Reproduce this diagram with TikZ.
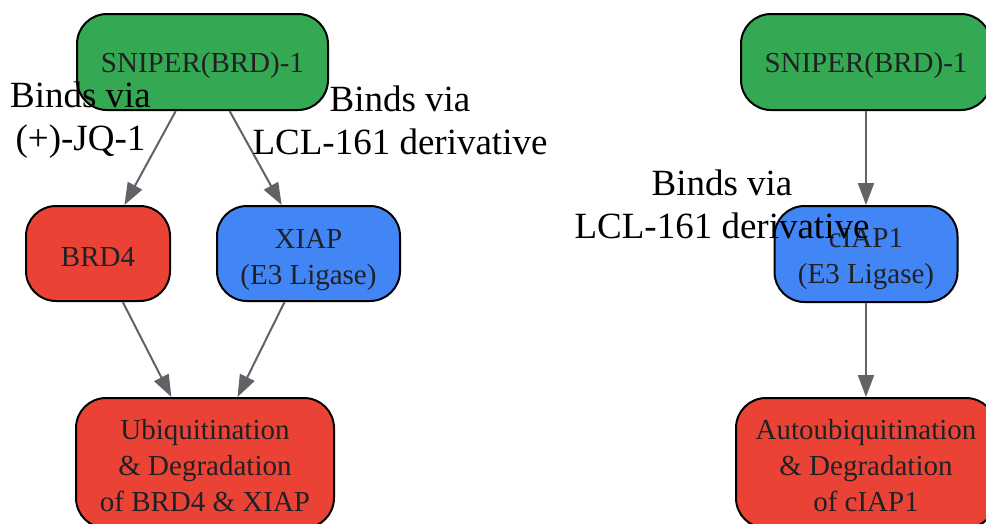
\documentclass[tikz,border=0pt]{standalone}
\usepackage{fontspec}
\setmainfont{Liberation Serif}
\usetikzlibrary{arrows.meta}
\definecolor{gGreen}{HTML}{34A853}
\definecolor{gRed}{HTML}{EA4335}
\definecolor{gBlue}{HTML}{4285F4}
\definecolor{txtGray}{HTML}{202124}
\definecolor{edgeGray}{HTML}{5F6368}
\tikzset{
  boxnode/.style={draw=black, line width=2pt, rounded corners=30pt, align=center,
    inner sep=0pt, text=txtGray, font=\fontsize{29}{36}\selectfont},
  conn/.style={draw=edgeGray, line width=2pt, -{Triangle[length=22pt,width=16pt]}},
  edgelabel/.style={align=center, inner sep=0pt, text=black, font=\fontsize{37}{43}\selectfont}
}
\begin{document}
\begin{tikzpicture}[x=1pt,y=-1pt]
\clip (0,0) rectangle (986,523);
\fill[white] (0,0) rectangle (986,523);
% left graph
\node[boxnode, fill=gGreen, minimum width=251pt, minimum height=96pt, text height=28pt] (sn1) at (202.5,62) {SNIPER(BRD)-1};
\node[boxnode, fill=gRed, minimum width=144pt, minimum height=95pt, text height=26.5pt] (brd4) at (98,253.5) {BRD4};
\node[boxnode, fill=gBlue, minimum width=183pt, minimum height=95pt, text height=68pt] (xiap) at (308.5,253.5) {XIAP\\(E3 Ligase)};
\node[boxnode, fill=gRed, minimum width=258pt, minimum height=130pt, text height=97pt] (ubq) at (205,463) {Ubiquitination\\\& Degradation\\of BRD4 \& XIAP};
% right graph
\node[boxnode, fill=gGreen, minimum width=250pt, minimum height=96pt, text height=28pt] (sn2) at (866,62) {SNIPER(BRD)-1};
\node[boxnode, fill=gBlue, minimum width=183pt, minimum height=96pt, text height=66pt] (ciap) at (866,254) {cIAP1\\(E3 Ligase)};
\node[boxnode, fill=gRed, minimum width=260pt, minimum height=130pt, text height=97pt] (aubq) at (866,463) {Autoubiquitination\\\& Degradation\\of cIAP1};
% connectors
\draw[conn] (sn1) -- (brd4);
\draw[conn] (sn1) -- (xiap);
\draw[conn] (brd4) -- (ubq);
\draw[conn] (xiap) -- (ubq);
\draw[conn] (sn2) -- (ciap);
\draw[conn] (ciap) -- (aubq);
% edge labels
\node[edgelabel] (l1) at (80.5,120.5) {Binds via\\(+)-JQ-1};
\node[edgelabel] (l2) at (400,120) {Binds via\\LCL-161 derivative};
\node[edgelabel] (l3) at (722,204) {Binds via\\LCL-161 derivative};
\end{tikzpicture}
\end{document}
